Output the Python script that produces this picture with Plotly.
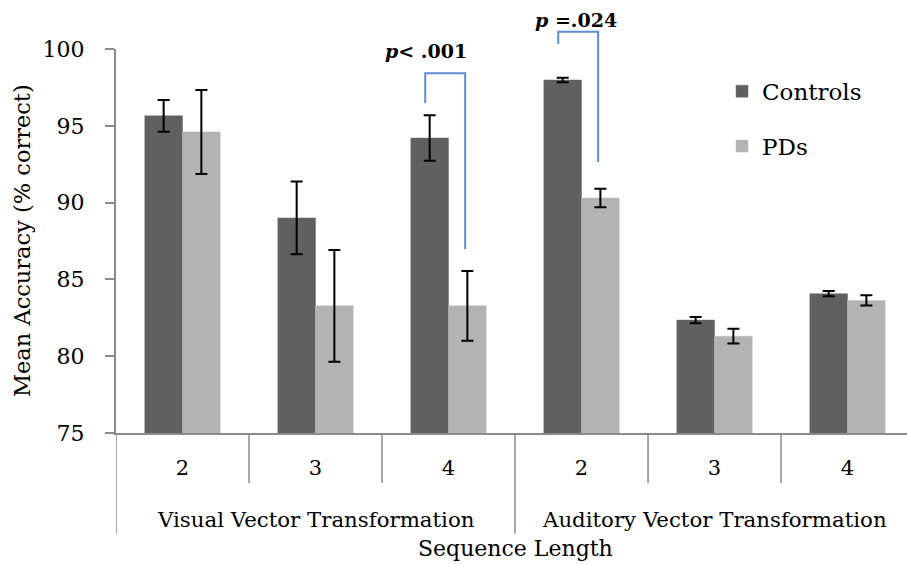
import plotly.graph_objects as go

# ---- data ----
seq_lengths = ["2", "3", "4", "2", "3", "4"]
groups = ["Visual Vector Transformation", "Auditory Vector Transformation"]
controls = [95.65, 89.0, 94.2, 97.98, 82.35, 84.07]
controls_err = [1.03, 2.37, 1.48, 0.15, 0.21, 0.17]
pds = [94.6, 83.28, 83.28, 90.3, 81.3, 83.63]
pds_err = [2.73, 3.64, 2.27, 0.6, 0.48, 0.33]
y_ticks = [75, 80, 85, 90, 95, 100]

FONT = "DejaVu Serif"
AXIS_COL = "#8a8a8a"
BRACKET_COL = "#5b8fd4"

# pixel geometry helpers (plot area 116..907 x, 49.3..432.7 y)
PLOT_TOP, PLOT_BOT = 49.3, 432.7
def yp(v):  # data value -> paper y
    return (v - 75) / 25.0
def ypx(px):  # pixel y -> paper y
    return (PLOT_BOT - px) / (PLOT_BOT - PLOT_TOP)

x = list(range(len(seq_lengths)))

fig = go.Figure()
fig.add_trace(go.Bar(
    x=x, y=[c - 75 for c in controls], base=75, name="Controls",
    marker=dict(color="#606060", line=dict(color="#6a6a6a", width=0.5)),
    error_y=dict(type="data", array=controls_err, color="black", thickness=2, width=6),
    legendgroup="c",
))
fig.add_trace(go.Bar(
    x=x, y=[p - 75 for p in pds], base=75, name="PDs",
    marker=dict(color="#b3b3b3", line=dict(color="#bdbdbd", width=0.5)),
    error_y=dict(type="data", array=pds_err, color="black", thickness=2, width=6),
    legendgroup="p",
))

shapes = []
# category dividers below the axis
for b in [0.5, 1.5, 3.5, 4.5]:
    shapes.append(dict(type="line", xref="x", yref="paper", x0=b, x1=b,
                       y0=0, y1=ypx(482.7), line=dict(color=AXIS_COL, width=1.5)))
for b in [-0.5, 2.5]:
    shapes.append(dict(type="line", xref="x", yref="paper", x0=b, x1=b,
                       y0=0, y1=ypx(533), line=dict(color=AXIS_COL, width=1.5)))

# significance brackets
def bracket(cat, top, left_bot, right_bot):
    xl, xr = cat - 0.175, cat + 0.125
    return dict(type="path", xref="x", yref="paper",
                path=f"M {xl},{yp(left_bot)} L {xl},{yp(top)} L {xr},{yp(top)} L {xr},{yp(right_bot)}",
                line=dict(color=BRACKET_COL, width=2))
shapes.append(bracket(2, 98.42, 96.49, 86.96))
shapes.append(bracket(3, 101.12, 100.33, 92.64))

annotations = [
    dict(text=groups[0], x=1, xref="x", y=ypx(519), yref="paper", showarrow=False,
         font=dict(family=FONT, size=21.3, color="black"), yanchor="middle"),
    dict(text=groups[1], x=4, xref="x", y=ypx(519), yref="paper", showarrow=False,
         font=dict(family=FONT, size=21.3, color="black"), yanchor="middle"),
    dict(text="Sequence Length", x=2.5, xref="x", y=ypx(548), yref="paper",
         showarrow=False, font=dict(family=FONT, size=22, color="black"), yanchor="middle"),
    dict(text="Mean Accuracy (% correct)", x=(22 - 116) / 791, xref="paper", y=0.5, yref="paper",
         showarrow=False, textangle=-90, font=dict(family=FONT, size=22.5, color="black"),
         xanchor="center", yanchor="middle"),
    dict(text="<b><i>p</i>&lt; .001</b>", x=1.83, xref="x", y=ypx(51), yref="paper",
         showarrow=False, font=dict(family=FONT, size=19, color="black"), yanchor="middle"),
    dict(text="<b><i>p</i> =.024</b>", x=2.96, xref="x", y=ypx(20), yref="paper",
         showarrow=False, font=dict(family=FONT, size=19, color="black"), yanchor="middle"),
]

fig.update_layout(
    width=907, height=564,
    margin=dict(l=116, r=0, t=49.3, b=564 - 432.7, pad=0),
    paper_bgcolor="white", plot_bgcolor="white",
    barmode="group", bargap=0.433, bargroupgap=0,
    font=dict(family=FONT, size=20, color="black"),
    showlegend=True,
    legend=dict(x=(722 - 116) / 791, y=ypx(70), xanchor="left", yanchor="top",
                font=dict(family=FONT, size=23, color="black"),
                tracegroupgap=22, bgcolor="rgba(0,0,0,0)"),
    shapes=shapes, annotations=annotations,
    xaxis=dict(range=[-0.5, 5.447], tickmode="array", tickvals=x, ticktext=seq_lengths,
               showline=True, linecolor=AXIS_COL, linewidth=2, ticks="",
               showgrid=False, zeroline=False, ticklabelstandoff=15,
               tickfont=dict(family=FONT, size=21, color="black")),
    yaxis=dict(range=[75, 100], tickvals=y_ticks, showline=True, linecolor=AXIS_COL,
               linewidth=2, ticks="outside", ticklen=9, tickcolor=AXIS_COL, tickwidth=1.5,
               showgrid=False, zeroline=False, ticklabelstandoff=16,
               tickfont=dict(family=FONT, size=22, color="black")),
)

fig.write_html("out.html")
